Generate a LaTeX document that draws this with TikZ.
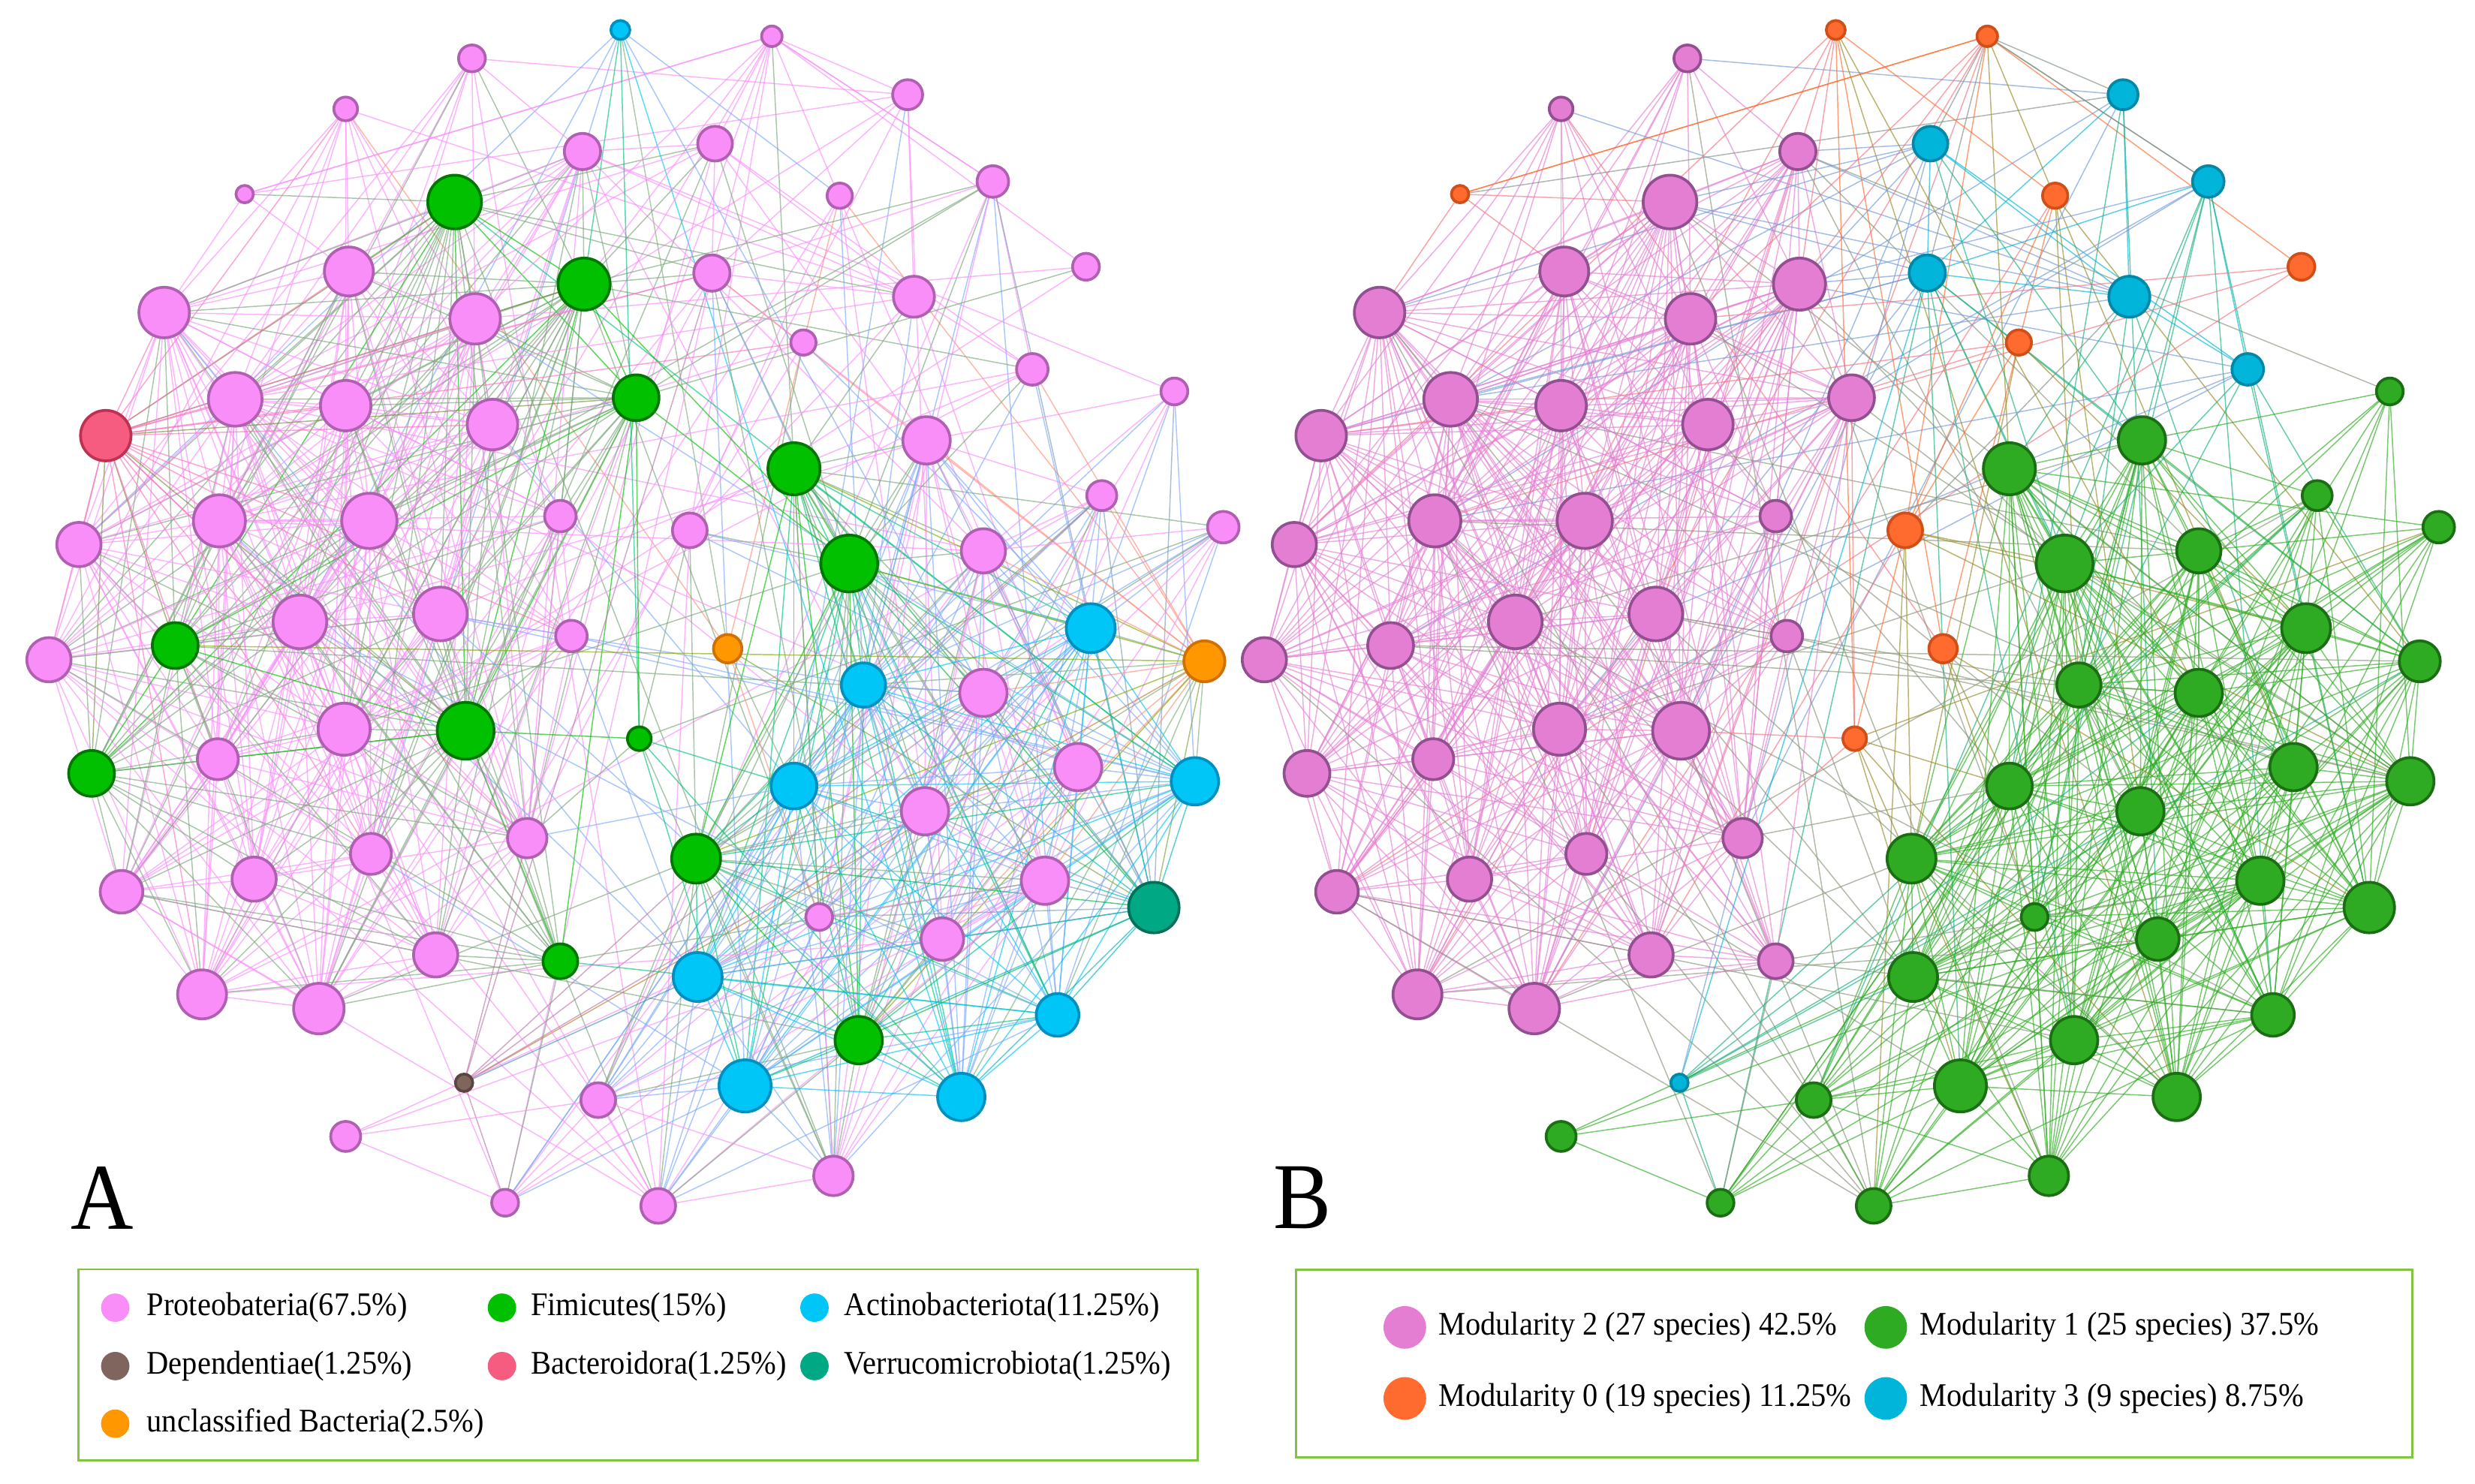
\documentclass[tikz,border=0pt]{standalone}
\usepackage{fontspec}
\setmainfont{Liberation Serif}
\newfontfamily\legfont[FakeStretch=0.92]{Liberation Serif}
\pgfdeclarelayer{edgelayer}
\pgfsetlayers{edgelayer,main}
% phylum colours (panel A)
\definecolor{cP}{HTML}{F98EF9}\definecolor{bP}{HTML}{B060B0}
\definecolor{cF}{HTML}{00C000}\definecolor{bF}{HTML}{007800}
\definecolor{cA}{HTML}{00C6F8}\definecolor{bA}{HTML}{0090C0}
\definecolor{cD}{HTML}{80655F}\definecolor{bD}{HTML}{5A4540}
\definecolor{cB}{HTML}{F55C80}\definecolor{bB}{HTML}{C03050}
\definecolor{cV}{HTML}{00A884}\definecolor{bV}{HTML}{00705A}
\definecolor{cU}{HTML}{FF9700}\definecolor{bU}{HTML}{D07000}
% module colours (panel B)
\definecolor{modO}{HTML}{FF6B2E}\definecolor{modbO}{HTML}{D04E18}
\definecolor{modG}{HTML}{2EAB22}\definecolor{modbG}{HTML}{1B6E14}
\definecolor{modK}{HTML}{E47ED3}\definecolor{modbK}{HTML}{935090}
\definecolor{modC}{HTML}{00B5D9}\definecolor{modbC}{HTML}{0088A8}
\definecolor{legG}{HTML}{82C341}
% module-pair connection strengths
\expandafter\def\csname Kab00\endcsname{2.0}
\expandafter\def\csname Kab01\endcsname{0.35}
\expandafter\def\csname Kab02\endcsname{0.25}
\expandafter\def\csname Kab03\endcsname{0.35}
\expandafter\def\csname Kab10\endcsname{0.35}
\expandafter\def\csname Kab11\endcsname{1.2}
\expandafter\def\csname Kab12\endcsname{0.12}
\expandafter\def\csname Kab13\endcsname{0.45}
\expandafter\def\csname Kab20\endcsname{0.25}
\expandafter\def\csname Kab21\endcsname{0.12}
\expandafter\def\csname Kab22\endcsname{1.1}
\expandafter\def\csname Kab23\endcsname{0.4}
\expandafter\def\csname Kab30\endcsname{0.35}
\expandafter\def\csname Kab31\endcsname{0.45}
\expandafter\def\csname Kab32\endcsname{0.4}
\expandafter\def\csname Kab33\endcsname{1.5}
\def\modletter#1{\ifcase#1 O\or G\or K\or C\fi}
\def\drawedge#1#2{%
  \edef\edgepa{\csname nc#1\endcsname}\edef\edgepb{\csname nc#2\endcsname}%
  \edef\edgema{\csname nl#1\endcsname}\edef\edgemb{\csname nl#2\endcsname}%
  \edef\edgetmp{\noexpand\colorlet{eA}{c\edgepa!50!c\edgepb}\noexpand\colorlet{eB}{mod\edgema!50!mod\edgemb}}\edgetmp
  \draw[edgeA] (a#1) -- (a#2);
  \draw[edgeB] (b#1) -- (b#2);
}
\tikzset{
  netnode/.style={circle, inner sep=0pt, outer sep=0pt, line width=1pt},
  edgeA/.style={draw=eA, line width=0.4pt, draw opacity=0.65},
  edgeB/.style={draw=eB, line width=0.4pt, draw opacity=0.65},
  legbox/.style={draw=legG, line width=0.8pt, inner sep=0pt, anchor=north west},
  legtext/.style={anchor=west, inner sep=0pt, font=\legfont\fontsize{11.9}{13}\selectfont},
  legdotA/.style={circle, inner sep=0pt, minimum size=0.36cm},
  legdotB/.style={circle, inner sep=0pt, minimum size=0.54cm},
  panellabel/.style={inner sep=0pt, font=\legfont\fontsize{34}{34}\selectfont},
}
\begin{document}
\begin{tikzpicture}[x=0.02cm, y=-0.02cm]
\useasboundingbox (0,0) rectangle (1568,940);
\pgfmathsetseed{11}
% ---------------- nodes: index / x / y / radius / phylum / module
\foreach \i/\x/\y/\rad/\ph/\mo in {
1/299/37/8.5/P/2, 2/219/69/7.5/P/2, 3/155/123/5.5/P/0, 4/393/19/6/A/0,
5/489/23/6.5/P/0, 6/575/60/9.5/P/3, 7/369/96/11.5/P/2, 8/453/91/11/P/3,
9/532/124/8/P/0, 10/629/115/10/P/3, 11/288/128/17/F/2, 12/221/172/15.5/P/2,
13/370/180/16.5/F/2, 14/451/173/11.5/P/3, 15/579/188/13/P/3, 16/688/169/8.5/P/0,
17/104/198/16/P/2, 18/301/202/16/P/2, 19/509/217/8/P/0, 20/654/234/10/P/3,
21/744/248/8.5/P/1, 22/149/253/17/P/2, 23/219/257/16/P/2, 24/403/252/14.5/F/2,
25/67/276/16/B/2, 26/312/269/16/P/2, 27/503/297/16.5/F/1, 28/587/279/15/P/1,
29/698/314/9.5/P/1, 30/775/334/10/P/1, 31/139/330/16.5/P/2, 32/234/330/17.5/P/2,
33/355/327/10/P/2, 34/437/336/11/P/0, 35/538/357/18/F/1, 36/623/349/14/P/1,
37/50/345/14/P/2, 38/190/394/17/P/2, 39/279/389/17/P/2, 40/362/403/10/P/2,
41/461/411/9/U/0, 42/691/398/15.5/A/1, 43/763/419/13/U/1, 44/31/418/14/P/2,
45/111/409/14.5/F/2, 46/547/434/14/A/1, 47/623/439/15/P/1, 48/218/462/16.5/P/2,
49/295/463/18/F/2, 50/405/468/7.5/F/0, 51/138/481/13/P/2, 52/58/490/14.5/F/2,
53/683/486/15/P/1, 54/757/495/15/A/1, 55/503/498/14.5/A/1, 56/586/514/15/P/1,
57/334/531/12.5/P/2, 58/235/541/13/P/2, 59/441/544/15.5/F/1, 60/77/565/13.5/P/2,
61/161/557/14/P/2, 62/662/558/15/P/1, 63/731/575/16/V/1, 64/519/581/8.5/P/1,
65/597/595/13.5/P/1, 66/276/605/14/P/2, 67/355/609/11/F/2, 68/442/619/15.5/A/1,
69/128/630/15.5/P/2, 70/202/639/16/P/2, 71/670/643/13.5/A/1, 72/544/659/15/F/1,
73/294/686/5.5/D/3, 74/472/688/16.5/A/1, 75/609/695/15/A/1, 76/379/697/11/P/1,
77/219/720/9.5/P/1, 78/528/745/12.5/P/1, 79/320/762/8.5/P/1, 80/417/764/11/P/1}{
  \edef\ml{\modletter{\mo}}
  \node[netnode, fill=c\ph, draw=b\ph, minimum size={\rad*0.04cm}] (a\i) at (\x,\y) {};
  \node[netnode, fill=mod\ml, draw=modb\ml, minimum size={\rad*0.04cm}] (b\i) at (\x+770,\y) {};
  \pgfmathsetmacro\ww{(\rad-3)/13}
  \expandafter\xdef\csname nx\i\endcsname{\x}
  \expandafter\xdef\csname ny\i\endcsname{\y}
  \expandafter\xdef\csname nw\i\endcsname{\ww}
  \expandafter\xdef\csname nm\i\endcsname{\mo}
  \expandafter\xdef\csname nl\i\endcsname{\ml}
  \expandafter\xdef\csname nc\i\endcsname{\ph}
}
% ---------------- edges (same network in both panels)
\begin{pgfonlayer}{edgelayer}
\foreach \i in {1,...,79}{
  \pgfmathtruncatemacro\jfrom{\i+1}
  \foreach \j in {\jfrom,...,80}{
    \edef\exA{\csname nx\i\endcsname}\edef\eyA{\csname ny\i\endcsname}
    \edef\exB{\csname nx\j\endcsname}\edef\eyB{\csname ny\j\endcsname}
    \edef\ewA{\csname nw\i\endcsname}\edef\ewB{\csname nw\j\endcsname}
    \edef\ekk{\csname Kab\csname nm\i\endcsname\csname nm\j\endcsname\endcsname}
    \pgfmathsetmacro\epp{\ekk*\ewA*\ewB*max(0.3,1.3-veclen(\exA-\exB,\eyA-\eyB)/550)}
    \pgfmathsetmacro\err{rnd}
    \ifdim\err pt<\epp pt\relax \drawedge{\i}{\j}\fi
  }
}
\foreach \i/\j in {3/11,3/12,3/5,4/50,4/9,4/47,5/6,5/18,5/10,73/14,73/57,50/24,50/34,2/12,2/17,1/7,1/18}{
  \drawedge{\i}{\j}
}
\end{pgfonlayer}
% ---------------- panel labels
\node[panellabel] (labA) at (65,759) {A};
\node[panellabel] (labB) at (825,759) {B};
% ---------------- legend A
\node[legbox, minimum width=14.18cm, minimum height=2.42cm] (legA) at (49,803.5) {};
\node[legdotA, fill=cP] (dA1) at (73,828.5) {};
\node[legtext] (tA1) at (92.7,828.5) {Proteobateria(67.5\%)};
\node[legdotA, fill=cF] (dA2) at (318,828.5) {};
\node[legtext] (tA2) at (336,828.5) {Fimicutes(15\%)};
\node[legdotA, fill=cA] (dA3) at (516,828.5) {};
\node[legtext] (tA3) at (534.6,828.5) {Actinobacteriota(11.25\%)};
\node[legdotA, fill=cD] (dA4) at (73,865.5) {};
\node[legtext] (tA4) at (92.7,865.5) {Dependentiae(1.25\%)};
\node[legdotA, fill=cB] (dA5) at (318,865.5) {};
\node[legtext] (tA5) at (336,865.5) {Bacteroidora(1.25\%)};
\node[legdotA, fill=cV] (dA6) at (516,865.5) {};
\node[legtext] (tA6) at (534.6,865.5) {Verrucomicrobiota(1.25\%)};
\node[legdotA, fill=cU] (dA7) at (73,902) {};
\node[legtext] (tA7) at (92.7,902) {unclassified Bacteria(2.5\%)};
% ---------------- legend B
\node[legbox, minimum width=14.14cm, minimum height=2.38cm] (legB) at (820.5,803.7) {};
\node[legdotB, fill=modK] (dB1) at (890,841) {};
\node[legtext] (tB1) at (911,841) {Modularity 2 (27 species) 42.5\%};
\node[legdotB, fill=modG] (dB2) at (1194.7,841) {};
\node[legtext] (tB2) at (1216,841) {Modularity 1 (25 species) 37.5\%};
\node[legdotB, fill=modO] (dB3) at (890,886) {};
\node[legtext] (tB3) at (911,886) {Modularity 0 (19 species) 11.25\%};
\node[legdotB, fill=modC] (dB4) at (1194.7,886) {};
\node[legtext] (tB4) at (1216,886) {Modularity 3 (9 species) 8.75\%};
\end{tikzpicture}
\end{document}
